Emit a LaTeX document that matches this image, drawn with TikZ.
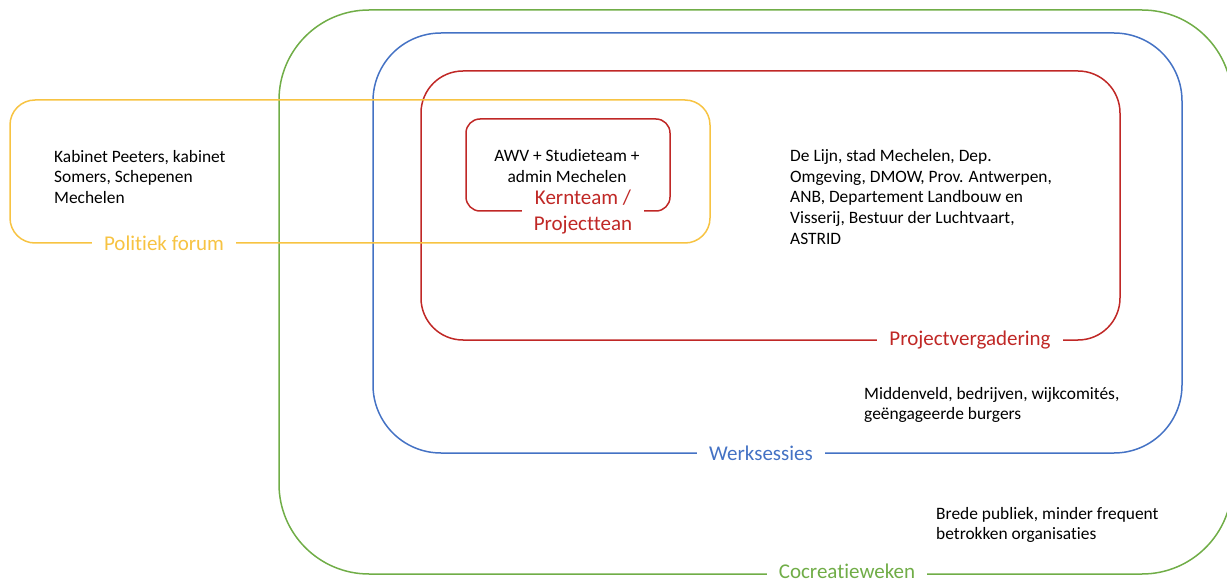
\documentclass[tikz,border=0pt]{standalone}
\usepackage{fontspec}
\setmainfont{Carlito}[RawFeature=-liga]
\usepackage{tikz}
\definecolor{cgreen}{RGB}{112,173,71}
\definecolor{cblue}{RGB}{68,114,196}
\definecolor{cred}{RGB}{192,40,38}
\definecolor{cyellow}{RGB}{247,195,66}
\tikzset{ring/.style={draw=#1,line width=1.5pt,rectangle,inner sep=0pt},
	 tag/.style={fill=white,text=#1,inner xsep=12pt,inner ysep=1pt,align=center,font=\fontsize{21}{25.5}\selectfont},
	 note/.style={inner sep=0pt,align=left,font=\fontsize{17.4}{20.6}\selectfont}
	 }

\begin{document}
\begin{tikzpicture}[x=1pt,y=-1pt] % overleg- en participatiestructuur
	\useasboundingbox (0,0) rectangle (1227,580);
	\node[ring=cgreen,rounded corners=90pt,minimum width=953pt,minimum height=564pt] (cocreatie) at (755.5,292) {};
	\node[ring=cblue,rounded corners=68pt,minimum width=809pt,minimum height=420pt] (werk) at (777.5,243) {};
	\node[ring=cred,rounded corners=42pt,minimum width=699pt,minimum height=269pt] (project) at (770.5,205.5) {};
	\node[ring=cyellow,rounded corners=25pt,minimum width=700pt,minimum height=143pt] (forum) at (360,171.5) {};
	\node[ring=cred,rounded corners=14pt,minimum width=204pt,minimum height=92pt] (kern) at (568,165) {};
	\node[tag=cyellow] (forumtag) at (164,243) {Politiek forum};
	\node[tag=cred] (kerntag) at (583,212) {Kernteam /\\Projecttean};
	\node[tag=cred] (projecttag) at (970,340) {Projectvergadering};
	\node[tag=cblue] (werktag) at (761,453) {Werksessies};
	\node[tag=cgreen] (cocreatietag) at (847,571) {Cocreatieweken};
	\node[note,anchor=west] (forumnote) at (54,177) {Kabinet Peeters, kabinet\\Somers, Schepenen\\Mechelen};
	\node[note,align=center] (kernnote) at (567,166) {AWV + Studieteam +\\admin Mechelen};
	\node[note,anchor=west] (projectnote) at (790,197) {De Lijn, stad Mechelen, Dep.\\Omgeving, DMOW, Prov. Antwerpen,\\ANB, Departement Landbouw en\\Visserij, Bestuur der Luchtvaart,\\ASTRID};
	\node[note,anchor=west] (werknote) at (864,405) {Middenveld, bedrijven, wijkcomités,\\geëngageerde burgers};
	\node[note,anchor=west] (cocreatienote) at (936,525) {Brede publiek, minder frequent\\betrokken organisaties};
\end{tikzpicture}
\end{document}
